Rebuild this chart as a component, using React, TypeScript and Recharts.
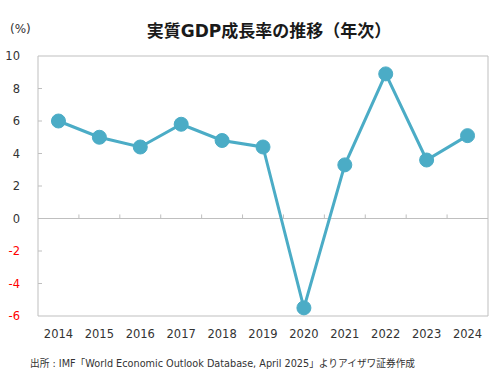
import React from 'react';
import { LineChart, Line, XAxis, YAxis, ReferenceArea, ReferenceLine } from 'recharts';

const years = ['2014', '2015', '2016', '2017', '2018', '2019', '2020', '2021', '2022', '2023', '2024'];
const growth = [6.0, 5.0, 4.4, 5.8, 4.8, 4.4, -5.5, 3.3, 8.9, 3.6, 5.1];
const yTicks = [-6, -4, -2, 0, 2, 4, 6, 8, 10];

const data = years.map((year, i) => ({ year, growth: growth[i] }));

const FONT = '"DejaVu Sans", "Noto Sans CJK JP", sans-serif';
const LINE_COLOR = '#4bacc6';
const FRAME = '#bfbfbf';

// y tick: small inward tick + label, negatives in red
const YTick = (props: any) => {
  const { x, y, payload } = props;
  const v = payload.value as number;
  return (
    <g>
      {v !== 0 && v !== -6 && v !== 10 && <line x1={x} x2={x + 4} y1={y} y2={y} stroke={FRAME} />}
      <text x={x - 18} y={y} dy="0.35em" textAnchor="end" fontSize={11.5} fontFamily={FONT}
        fill={v < 0 ? '#ff0000' : '#333'}>
        {v}
      </text>
    </g>
  );
};

const App: React.FC = () => (
  <div style={{ position: 'absolute', left: 0, top: 0, width: 500, height: 383, background: '#fff', fontFamily: FONT }}>
    <div style={{ position: 'absolute', left: 0, width: 538, top: 17, textAlign: 'center', fontSize: 17, fontWeight: 700, color: '#1a1a1a' }}>
      実質GDP成長率の推移（年次）
    </div>
    <div style={{ position: 'absolute', left: 10, top: 22, fontSize: 12, color: '#333' }}>(%)</div>
    <LineChart width={500} height={383} data={data} margin={{ top: 56, right: 12, bottom: 0, left: 0 }}>
      <XAxis dataKey="year" scale="band" axisLine={false} tickLine={false} tickSize={0} tickMargin={14} height={67}
        tick={{ fontSize: 11.5, fontFamily: FONT, fill: '#333' }} interval={0} />
      <YAxis domain={[-6, 10]} ticks={yTicks} width={38} tickLine={false} tickSize={0} tickMargin={0}
        axisLine={false} tick={<YTick />} interval={0} />
      <ReferenceArea y1={-6} y2={10} fill="none" stroke={FRAME} strokeWidth={1} ifOverflow="visible" />
      <ReferenceLine y={0} stroke={FRAME} strokeWidth={1} />
      {years.slice(1).map((yr) => (
        <ReferenceLine key={yr} position="start" segment={[{ x: yr, y: 0 }, { x: yr, y: 0.25 }]} stroke={FRAME} />
      ))}
      <Line type="linear" dataKey="growth" stroke={LINE_COLOR} strokeWidth={3}
        dot={{ r: 7, fill: LINE_COLOR, stroke: LINE_COLOR, strokeWidth: 1 }} isAnimationActive={false} />
    </LineChart>
    <div style={{ position: 'absolute', left: 30, top: 356, fontSize: 9.7, color: '#333', whiteSpace: 'nowrap' }}>
      出所 : IMF「World Economic Outlook Database, April 2025」よりアイザワ証券作成
    </div>
  </div>
);

export default App;
